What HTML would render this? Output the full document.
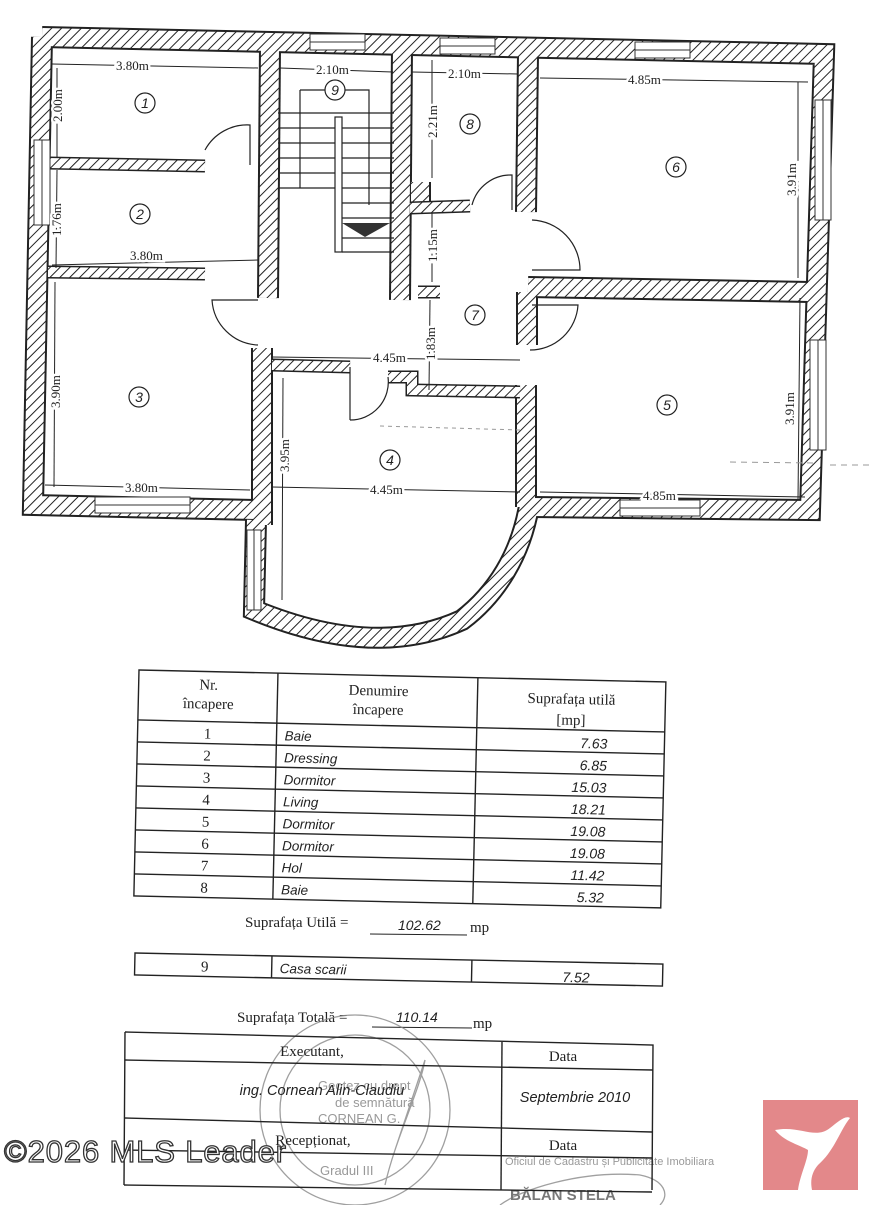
<!DOCTYPE html>
<html><head><meta charset="utf-8"><style>
html,body{margin:0;padding:0;background:#fff;width:871px;height:1205px;overflow:hidden}
svg{display:block}
.s{font-family:"Liberation Serif",serif;fill:#222}
.a{font-family:"Liberation Sans",sans-serif;font-style:italic;fill:#222}
</style></head><body>
<svg width="871" height="1205" viewBox="0 0 871 1205" xmlns="http://www.w3.org/2000/svg">
<defs>
<pattern id="h" patternUnits="userSpaceOnUse" width="7" height="7" patternTransform="rotate(45)">
<rect width="7" height="7" fill="#fff"/><line x1="0" y1="0" x2="0" y2="7" stroke="#222" stroke-width="2"/>
</pattern>
<g id="W" fill="none" stroke-linejoin="miter">
<path d="M42,37 L824,54 L810,510 L532,507"/>
<path d="M257,510 L33,505 L42,37"/>
<path d="M530,500 C522,555 495,595 462,620 Q375,660 254,610 L256,520"/>
<path d="M270,46 L268,298"/>
<path d="M402,48 L400,300"/>
<path d="M528,55 L526,212"/>
<path d="M528,287 L810,292"/>
<path d="M527,292 L527,345"/>
<path d="M526,385 L526,507"/>
<path d="M262,348 L262,525"/>
<path d="M420,182 L420,205"/>
</g>
<g id="T" fill="none">
<path d="M48,163 L205,166"/>
<path d="M48,272 L205,274"/>
<path d="M272,365 L350,367"/>
<path d="M388,377 L412,377 L412,390 L520,392"/>
<path d="M418,292 L440,292"/>
<path d="M410,208 L470,206"/>
</g>
</defs>

<use href="#W" stroke="#222" stroke-width="22"/>
<use href="#W" stroke="url(#h)" stroke-width="18"/>
<use href="#T" stroke="#222" stroke-width="13"/>
<use href="#T" stroke="url(#h)" stroke-width="10"/>

<g fill="#fff" stroke="#333" stroke-width="1">
<rect x="310" y="34" width="55" height="16"/>
<rect x="440" y="38" width="55" height="16"/>
<rect x="635" y="42" width="55" height="16"/>
<rect x="34" y="140" width="16" height="85"/>
<rect x="815" y="100" width="16" height="120"/>
<rect x="810" y="340" width="16" height="110"/>
<rect x="95" y="497" width="95" height="16"/>
<rect x="620" y="500" width="80" height="16"/>
<rect x="247" y="530" width="14" height="80"/>
</g>
<g stroke="#333" stroke-width="1" fill="none">
<line x1="310" y1="42" x2="365" y2="42"/><line x1="440" y1="46" x2="495" y2="46"/>
<line x1="635" y1="50" x2="690" y2="50"/><line x1="42" y1="140" x2="42" y2="225"/>
<line x1="823" y1="100" x2="823" y2="220"/><line x1="818" y1="340" x2="818" y2="450"/>
<line x1="95" y1="505" x2="190" y2="505"/><line x1="620" y1="508" x2="700" y2="508"/>
<line x1="254" y1="530" x2="254" y2="610"/>
</g>

<g fill="none" stroke="#222" stroke-width="1.2">
<path d="M205,150 A48,48 0 0 1 250,125 L250,165"/>
<path d="M258,300 L212,300 A48,48 0 0 0 258,345"/>
<path d="M472,205 A40,40 0 0 1 512,175 L512,210"/>
<path d="M532,220 A50,50 0 0 1 580,270 L532,270"/>
<path d="M532,305 L578,305 A48,48 0 0 1 530,350"/>
<path d="M350,367 L350,420 M350,420 A38,38 0 0 0 388,377"/>
</g>

<g fill="none" stroke="#222" stroke-width="1.2">
<path d="M300,90 L369,90 L369,205"/>
<path d="M300,90 L300,188"/>
<rect x="335" y="117" width="7" height="135"/>
<line x1="278" y1="113" x2="394" y2="113"/>
<line x1="278" y1="128" x2="335" y2="128"/><line x1="342" y1="128" x2="394" y2="128"/>
<line x1="278" y1="143" x2="335" y2="143"/><line x1="342" y1="143" x2="394" y2="143"/>
<line x1="278" y1="158" x2="335" y2="158"/><line x1="342" y1="158" x2="394" y2="158"/>
<line x1="278" y1="173" x2="335" y2="173"/><line x1="342" y1="173" x2="394" y2="173"/>
<line x1="278" y1="188" x2="335" y2="188"/><line x1="342" y1="188" x2="394" y2="188"/>
<line x1="342" y1="203" x2="394" y2="203"/>
<line x1="342" y1="218" x2="394" y2="218"/>
<line x1="342" y1="238" x2="394" y2="238"/>
<line x1="342" y1="252" x2="394" y2="252"/>
</g>
<polygon points="342,223 390,223 365,237" fill="#333"/>

<g stroke="#222" stroke-width="1" fill="none">
<line x1="52" y1="64" x2="258" y2="68"/>
<line x1="57" y1="68" x2="57" y2="158"/>
<line x1="57" y1="170" x2="56" y2="268"/>
<line x1="52" y1="265" x2="258" y2="260"/>
<line x1="280" y1="68" x2="393" y2="72"/>
<line x1="412" y1="72" x2="518" y2="74"/>
<line x1="432" y1="60" x2="432" y2="178"/>
<line x1="432" y1="212" x2="432" y2="282"/>
<line x1="430" y1="300" x2="429" y2="390"/>
<line x1="540" y1="78" x2="808" y2="82"/>
<line x1="798" y1="82" x2="798" y2="278"/>
<line x1="800" y1="298" x2="798" y2="500"/>
<line x1="272" y1="357" x2="520" y2="360"/>
<line x1="55" y1="282" x2="54" y2="487"/>
<line x1="45" y1="485" x2="250" y2="490"/>
<line x1="283" y1="378" x2="282" y2="600"/>
<line x1="272" y1="487" x2="520" y2="492"/>
<line x1="540" y1="492" x2="805" y2="497"/>
<line x1="380" y1="426" x2="520" y2="430" stroke-dasharray="4,4" stroke="#999"/>
<line x1="730" y1="462" x2="815" y2="463" stroke-dasharray="6,5" stroke="#999"/>
<line x1="830" y1="465" x2="871" y2="465" stroke-dasharray="6,5" stroke="#999"/>
</g>
<g class="s" font-size="13">
<text x="116" y="70" stroke="#fff" stroke-width="5">3.80m</text><text x="116" y="70">3.80m</text>
<text x="130" y="260" stroke="#fff" stroke-width="5">3.80m</text><text x="130" y="260">3.80m</text>
<text x="316" y="74" stroke="#fff" stroke-width="5">2.10m</text><text x="316" y="74">2.10m</text>
<text x="448" y="78" stroke="#fff" stroke-width="5">2.10m</text><text x="448" y="78">2.10m</text>
<text x="628" y="84" stroke="#fff" stroke-width="5">4.85m</text><text x="628" y="84">4.85m</text>
<text x="373" y="362" stroke="#fff" stroke-width="5">4.45m</text><text x="373" y="362">4.45m</text>
<text x="125" y="492" stroke="#fff" stroke-width="5">3.80m</text><text x="125" y="492">3.80m</text>
<text x="370" y="494" stroke="#fff" stroke-width="5">4.45m</text><text x="370" y="494">4.45m</text>
<text x="643" y="500" stroke="#fff" stroke-width="5">4.85m</text><text x="643" y="500">4.85m</text>
</g>
<g class="s" font-size="13">
<text transform="translate(62,122) rotate(-90)" stroke="#fff" stroke-width="5">2.00m</text><text transform="translate(62,122) rotate(-90)">2.00m</text>
<text transform="translate(61,236) rotate(-90)" stroke="#fff" stroke-width="5">1.76m</text><text transform="translate(61,236) rotate(-90)">1.76m</text>
<text transform="translate(60,408) rotate(-90)" stroke="#fff" stroke-width="5">3.90m</text><text transform="translate(60,408) rotate(-90)">3.90m</text>
<text transform="translate(437,138) rotate(-90)" stroke="#fff" stroke-width="5">2.21m</text><text transform="translate(437,138) rotate(-90)">2.21m</text>
<text transform="translate(437,262) rotate(-90)" stroke="#fff" stroke-width="5">1.15m</text><text transform="translate(437,262) rotate(-90)">1.15m</text>
<text transform="translate(435,360) rotate(-90)" stroke="#fff" stroke-width="5">1.83m</text><text transform="translate(435,360) rotate(-90)">1.83m</text>
<text transform="translate(796,196) rotate(-90)" stroke="#fff" stroke-width="5">3.91m</text><text transform="translate(796,196) rotate(-90)">3.91m</text>
<text transform="translate(794,425) rotate(-90)" stroke="#fff" stroke-width="5">3.91m</text><text transform="translate(794,425) rotate(-90)">3.91m</text>
<text transform="translate(289,472) rotate(-90)" stroke="#fff" stroke-width="5">3.95m</text><text transform="translate(289,472) rotate(-90)">3.95m</text>
</g>

<g fill="#fff" stroke="#222" stroke-width="1.2">
<circle cx="145" cy="103" r="10"/><circle cx="140" cy="214" r="10"/>
<circle cx="139" cy="397" r="10"/><circle cx="390" cy="460" r="10"/>
<circle cx="667" cy="405" r="10"/><circle cx="676" cy="167" r="10"/>
<circle cx="475" cy="315" r="10"/><circle cx="470" cy="124" r="10"/>
<circle cx="335" cy="90" r="10"/>
</g>
<g class="a" font-size="14" text-anchor="middle">
<text x="145" y="108">1</text><text x="140" y="219">2</text><text x="139" y="402">3</text>
<text x="390" y="465">4</text><text x="667" y="410">5</text><text x="676" y="172">6</text>
<text x="475" y="320">7</text><text x="470" y="129">8</text><text x="335" y="95">9</text>
</g>

<g transform="translate(139,670) rotate(1.3)" stroke="#222" stroke-width="1.4" fill="none">
<rect x="0" y="0" width="527" height="226"/>
<line x1="139" y1="0" x2="139" y2="226"/><line x1="339" y1="0" x2="339" y2="226"/>
<line x1="0" y1="50" x2="527" y2="50"/>
<line x1="0" y1="72" x2="527" y2="72"/><line x1="0" y1="94" x2="527" y2="94"/>
<line x1="0" y1="116" x2="527" y2="116"/><line x1="0" y1="138" x2="527" y2="138"/>
<line x1="0" y1="160" x2="527" y2="160"/><line x1="0" y1="182" x2="527" y2="182"/>
<line x1="0" y1="204" x2="527" y2="204"/>
</g>
<g transform="translate(139,670) rotate(1.3)">
<g class="s" font-size="15" text-anchor="middle">
<text x="70" y="18">Nr.</text><text x="70" y="37">încapere</text>
<text x="240" y="20">Denumire</text><text x="240" y="39">încapere</text>
<text x="433" y="24">Suprafața utilă</text><text x="433" y="45">[mp]</text>
<text x="70" y="67">1</text><text x="70" y="89">2</text><text x="70" y="111">3</text><text x="70" y="133">4</text>
<text x="70" y="155">5</text><text x="70" y="177">6</text><text x="70" y="199">7</text><text x="70" y="221">8</text>
</g>
<g class="a" font-size="13.5">
<text x="147" y="67">Baie</text><text x="147" y="89">Dressing</text><text x="147" y="111">Dormitor</text>
<text x="147" y="133">Living</text><text x="147" y="155">Dormitor</text><text x="147" y="177">Dormitor</text>
<text x="147" y="199">Hol</text><text x="147" y="221">Baie</text>
</g>
<g class="a" font-size="14" text-anchor="end">
<text x="470" y="68">7.63</text><text x="470" y="90">6.85</text><text x="470" y="112">15.03</text>
<text x="470" y="134">18.21</text><text x="470" y="156">19.08</text><text x="470" y="178">19.08</text>
<text x="470" y="200">11.42</text><text x="470" y="222">5.32</text>
</g>
</g>

<text class="s" x="245" y="927" font-size="15">Suprafața Utilă =</text>
<line x1="370" y1="934" x2="467" y2="935" stroke="#222" stroke-width="1"/>
<text class="a" x="398" y="930" font-size="14">102.62</text>
<text class="s" x="470" y="932" font-size="15">mp</text>

<g transform="translate(135,953) rotate(1.2)">
<rect x="0" y="0" width="528" height="22" fill="none" stroke="#222" stroke-width="1.4"/>
<line x1="137" y1="0" x2="137" y2="22" stroke="#222" stroke-width="1.4"/>
<line x1="337" y1="0" x2="337" y2="22" stroke="#222" stroke-width="1.4"/>
<text class="s" x="70" y="17" font-size="15" text-anchor="middle">9</text>
<text class="a" x="145" y="17" font-size="13.5">Casa scarii</text>
<text class="a" x="455" y="20" font-size="14" text-anchor="end">7.52</text>
</g>

<text class="s" x="237" y="1022" font-size="15">Suprafața Totală =</text>
<line x1="372" y1="1027" x2="472" y2="1028" stroke="#222" stroke-width="1"/>
<text class="a" x="396" y="1022" font-size="14">110.14</text>
<text class="s" x="473" y="1028" font-size="15">mp</text>

<g fill="none" stroke="#888" stroke-width="1.3" opacity="0.8">
<circle cx="355" cy="1110" r="95"/>
<circle cx="355" cy="1110" r="75"/>
<path d="M385,1185 C395,1140 420,1090 425,1060 L395,1150"/>
<path d="M500,1205 C520,1190 580,1170 640,1175 C665,1180 670,1195 660,1205"/>
</g>
<g font-family="Liberation Sans,sans-serif" fill="#999" font-size="13">
<text x="318" y="1090">Geotez cu drept</text>
<text x="335" y="1107">de semnătură</text>
<text x="318" y="1123">CORNEAN G.</text>
<text x="320" y="1175">Gradul III</text>
<text x="505" y="1165" font-size="11">Oficiul de Cadastru și Publicitate Imobiliara</text>
<text x="510" y="1200" font-size="15" font-weight="bold" fill="#777">BĂLAN STELA</text>
</g>

<g stroke="#222" stroke-width="1.4" fill="none">
<path d="M125,1032 L653,1045 L652,1190 M125,1032 L124,1185"/>
<line x1="125" y1="1060" x2="653" y2="1070"/>
<line x1="124" y1="1118" x2="652" y2="1132"/>
<line x1="124" y1="1150" x2="652" y2="1158"/>
<line x1="124" y1="1185" x2="652" y2="1192"/>
<line x1="502" y1="1042" x2="501" y2="1190"/>
</g>
<g class="s" font-size="15" text-anchor="middle">
<text x="312" y="1056">Executant,</text>
<text x="563" y="1061">Data</text>
<text x="313" y="1145">Recepționat,</text>
<text x="563" y="1150">Data</text>
</g>
<g class="a" font-size="14.5" text-anchor="middle">
<text x="322" y="1095">ing. Cornean Alin-Claudiu</text>
<text x="575" y="1102">Septembrie 2010</text>
</g>

<text x="4" y="1162" font-family="Liberation Sans,sans-serif" font-size="31" textLength="282" fill="#fff" stroke="#333" stroke-width="1.3">©2026 MLS Leader</text>

<rect x="763" y="1100" width="95" height="90" fill="#e3888a"/>
<path d="M775,1130 C800,1125 815,1140 830,1128 C838,1122 845,1115 850,1118 C840,1130 835,1150 818,1165 C812,1172 810,1180 812,1190 L798,1190 C800,1175 808,1160 808,1150 C800,1145 785,1142 775,1130 Z" fill="#fff"/>
</svg>
</body></html>
